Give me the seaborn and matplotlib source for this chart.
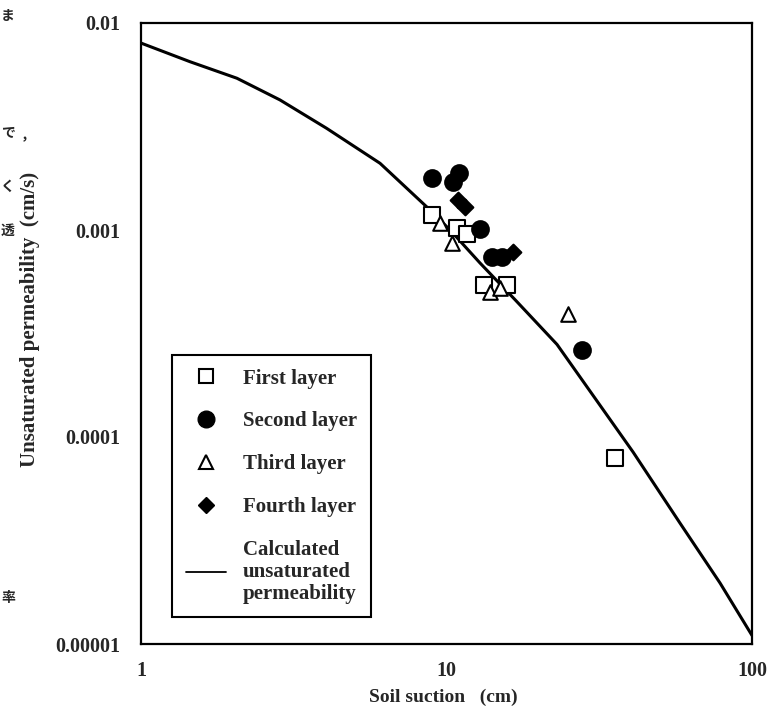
import matplotlib
matplotlib.use("Agg")
import matplotlib.pyplot as plt
import seaborn as sns
import pandas as pd
from matplotlib.lines import Line2D
from matplotlib.ticker import FixedLocator, FixedFormatter, LogLocator, NullFormatter

# ---------------- data ----------------
first_x = [8.97, 10.8, 11.7, 13.3, 15.8, 35.6]
first_y = [1.18e-3, 1.02e-3, 9.6e-4, 5.4e-4, 5.4e-4, 7.9e-5]

second_x = [8.97, 10.5, 11.0, 12.9, 14.1, 15.2, 27.8]
second_y = [1.78e-3, 1.71e-3, 1.89e-3, 1.01e-3, 7.4e-4, 7.4e-4, 2.63e-4]

third_x = [9.52, 10.4, 13.9, 15.0, 25.0]
third_y = [1.08e-3, 8.65e-4, 5.0e-4, 5.25e-4, 3.93e-4]

fourth_x = [10.9, 11.5, 16.5]
fourth_y = [1.40e-3, 1.29e-3, 7.8e-4]

curve_x = [1.0, 1.447, 2.06, 2.85, 4.05, 6.06, 8.83, 10.27, 12.87, 16.8, 23.0,
           40.8, 58.1, 78.6, 100.0]
curve_y = [8.0e-3, 6.50e-3, 5.41e-3, 4.25e-3, 3.10e-3, 2.10e-3, 1.25e-3, 1.0e-3, 6.93e-4,
           4.59e-4, 2.8e-4, 8.46e-5, 3.84e-5, 1.97e-5, 1.1e-5]

x_ticks = [1, 10, 100]
x_ticklabels = ["1", "10", "100"]
y_ticks = [1e-5, 1e-4, 1e-3, 1e-2]
y_ticklabels = ["0.00001", "0.0001", "0.001", "0.01"]

legend_labels = ["First layer", "Second layer", "Third layer", "Fourth layer",
                 "Calculated\nunsaturated\npermeability"]
x_label = "Soil suction   (cm)"
y_label = "Unsaturated permeability  (cm/s)"
edge_chars = ["ま", "で", "，", "く", "透", "率"]

# ---------------- plot ----------------
sns.set_style("white")
plt.rcParams["font.family"] = ["Liberation Serif", "Noto Sans CJK JP", "DejaVu Sans"]
plt.rcParams["font.weight"] = "bold"

fig = plt.figure(figsize=(7.79, 7.07), dpi=100)
ax = fig.add_axes([141/779, 1-644/707, (752-141)/779, (644-23)/707])

curve_df = pd.DataFrame({"x": curve_x, "y": curve_y})
sns.lineplot(data=curve_df, x="x", y="y", ax=ax, color="black", linewidth=2.2,
             sort=False, estimator=None)

layers = [
    (first_x, first_y, "s", "white", 11),
    (second_x, second_y, "o", "black", 12),
    (third_x, third_y, "^", "white", 10.5),
    (fourth_x, fourth_y, "D", "black", 8),
]
for xs, ys, mk, fc, ms in layers:
    df = pd.DataFrame({"x": xs, "y": ys})
    sns.scatterplot(data=df, x="x", y="y", ax=ax, marker=mk, s=ms**2,
                    facecolor=fc, edgecolor="black", linewidth=1.5, zorder=3)

ax.set_xscale("log")
ax.set_yscale("log")
ax.set_xlim(1, 100)
ax.set_ylim(1e-5, 1e-2)

ax.xaxis.set_major_locator(FixedLocator(x_ticks))
ax.xaxis.set_major_formatter(FixedFormatter(x_ticklabels))
ax.yaxis.set_major_locator(FixedLocator(y_ticks))
ax.yaxis.set_major_formatter(FixedFormatter(y_ticklabels))
ax.xaxis.set_minor_locator(LogLocator(base=10, subs=range(2, 10)))
ax.yaxis.set_minor_locator(LogLocator(base=10, subs=range(2, 10)))
ax.xaxis.set_minor_formatter(NullFormatter())
ax.yaxis.set_minor_formatter(NullFormatter())

ax.tick_params(axis="both", which="major", direction="in", length=8, width=1.3,
               labelsize=14.5, top=False, right=False, color="black")
ax.tick_params(axis="both", which="minor", direction="in", length=5, width=1.0,
               top=False, right=False, color="black")
ax.tick_params(axis="y", which="major", pad=15)
ax.tick_params(axis="x", which="major", pad=12)
for lab in ax.get_xticklabels() + ax.get_yticklabels():
    lab.set_fontweight("bold")

for sp in ax.spines.values():
    sp.set_color("black")
    sp.set_linewidth(1.6)

ax.set_xlabel(x_label, fontsize=14, fontweight="bold")
ax.set_ylabel(y_label, fontsize=15, fontweight="bold")
ax.xaxis.set_label_coords(0.494, -0.072)
ax.yaxis.set_label_coords(-0.166, 0.522)

handles = [
    Line2D([], [], linestyle="none", marker="s", markersize=10, markerfacecolor="white",
           markeredgecolor="black", markeredgewidth=1.5),
    Line2D([], [], linestyle="none", marker="o", markersize=12, markerfacecolor="black",
           markeredgecolor="black"),
    Line2D([], [], linestyle="none", marker="^", markersize=10, markerfacecolor="white",
           markeredgecolor="black", markeredgewidth=1.5),
    Line2D([], [], linestyle="none", marker="D", markersize=8, markerfacecolor="black",
           markeredgecolor="black"),
    Line2D([], [], color="black", linewidth=1.3),
]
leg = ax.legend(handles, legend_labels, loc="upper left",
                bbox_to_anchor=((172-141)/611, (644-355)/621),
                frameon=True, fancybox=False, edgecolor="black", framealpha=1,
                prop={"family": "Liberation Serif", "weight": "bold", "size": 15},
                handlelength=1.96, handletextpad=0.79, labelspacing=1.1,
                borderpad=0.65, borderaxespad=0)
leg.get_frame().set_linewidth(1.5)
for t in leg.get_texts():
    t.set_linespacing(1.12)

# characters from the neighbouring page at the left edge
edge_pos = [(1, 16), (1, 133), (21, 136), (1, 187), (1, 231), (1, 598)]
for ch, (px, py) in zip(edge_chars, edge_pos):
    fig.text(px/779, 1-py/707, ch, fontsize=10, fontweight="bold",
             family=["Noto Sans CJK JP", "DejaVu Sans"], ha="left", va="center")

fig.savefig("out.png", dpi=100)
